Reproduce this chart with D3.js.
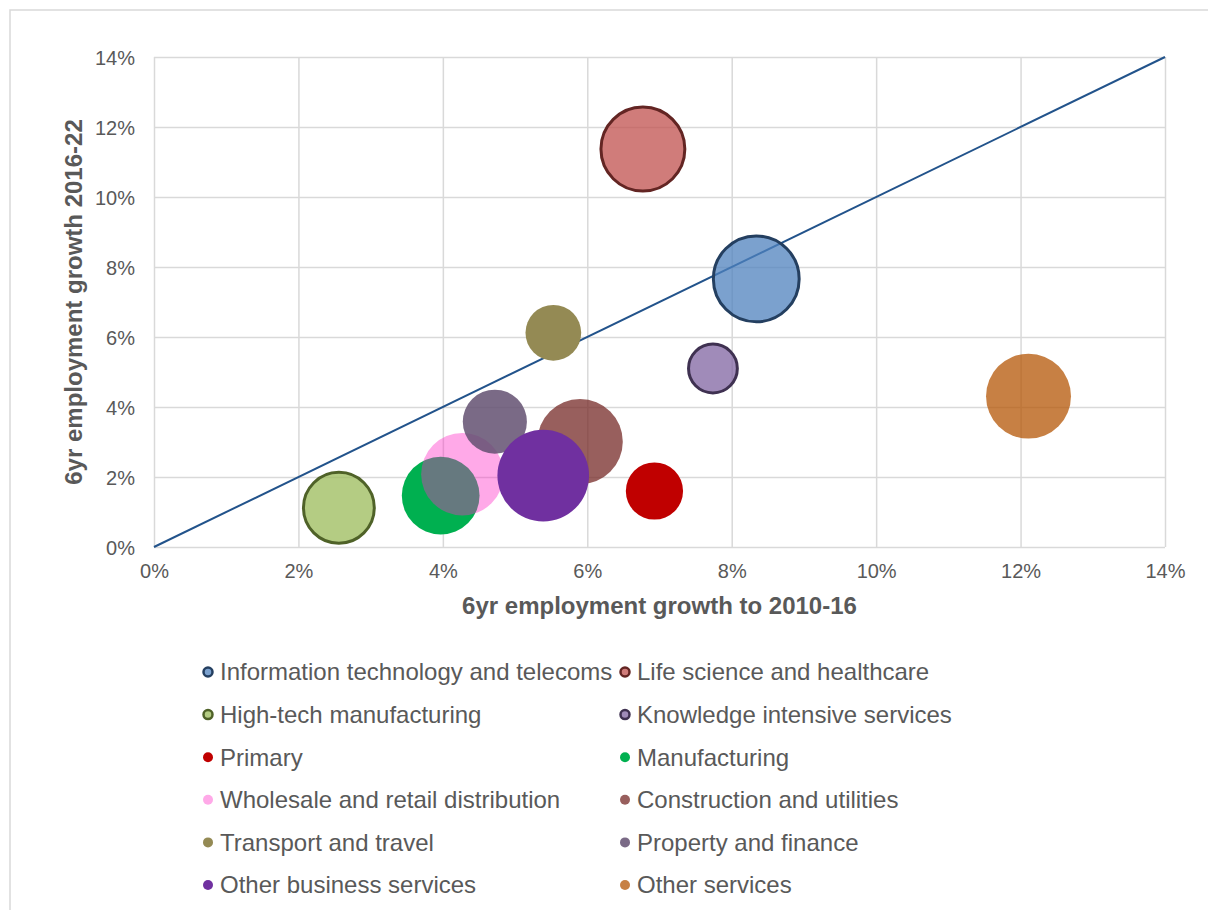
<!DOCTYPE html>
<html>
<head>
<meta charset="utf-8">
<script src="https://cdn.jsdelivr.net/npm/d3@7"></script>
<style>
  html, body { margin: 0; padding: 0; background: #fff; }
  svg { display: block; font-family: Arial, 'Liberation Sans', sans-serif; }
</style>
</head>
<body>
<svg id="chart" width="1208" height="910"></svg>
<script>
// sectors, in series order (Excel draws them in this order)
const sectors = [
  'Information technology and telecoms',
  'Life science and healthcare',
  'High-tech manufacturing',
  'Knowledge intensive services',
  'Primary',
  'Manufacturing',
  'Wholesale and retail distribution',
  'Construction and utilities',
  'Transport and travel',
  'Property and finance',
  'Other business services',
  'Other services',
]
// x: 6yr employment growth to 2010-16
const growthPrior = [0.0834, 0.0677, 0.0256, 0.0774, 0.0693, 0.0397, 0.0427, 0.059, 0.0553, 0.0472, 0.0539, 0.1211]
// y: 6yr employment growth 2016-22
const growthRecent = [0.0766, 0.1137, 0.0112, 0.051, 0.016, 0.0147, 0.0208, 0.0301, 0.0612, 0.0358, 0.0204, 0.0431]
// bubble size (relative)
const bubbleSize = [94, 90, 65, 32, 39, 72, 81, 87, 37, 49, 100, 86]

const axisTicks = [0, 0.02, 0.04, 0.06, 0.08, 0.1, 0.12, 0.14]
// parity line y = x
const parityLine = [[0, 0], [0.14, 0.14]]

// 样式
const fills = ['#4f81bd', '#c0504d', '#9bbb59', '#8064a2', '#c00000', '#00b050', '#ff29c5', '#762a27', '#948a54', '#635071', '#7030a0', '#b45505']
const fillOpacity = [0.75, 0.75, 0.75, 0.75, 1, 1, 0.4, 0.75, 1, 0.85, 1, 0.75]
const strokes = ['#243f60', '#632523', '#4f6228', '#3f3151', null, null, null, null, null, null, null, null]

const textColor = '#595959'
const gridColor = '#d9d9d9'

const svg = d3.select('#chart')

// 外框
svg.append('path')
  .attr('d', 'M10,910 V10 H1208')
  .attr('fill', 'none')
  .attr('stroke', gridColor)
  .attr('stroke-width', 1.5)

const plot = {left: 154, right: 1165, top: 57, bottom: 547}

const x = d3.scaleLinear().domain([0, 0.14]).range([plot.left, plot.right])
const y = d3.scaleLinear().domain([0, 0.14]).range([plot.bottom, plot.top])
const r = d3.scaleSqrt().domain([0, 100]).range([0, 45.8])

const fmt = d3.format('.0%')

// 网格线
svg.append('g')
  .attr('transform', `translate(0,${plot.bottom})`)
  .call(d3.axisBottom(x).tickValues(axisTicks).tickSize(-(plot.bottom - plot.top)).tickFormat(''))
  .call((g) => g.select('.domain').remove())
  .call((g) => g.selectAll('line').attr('stroke', gridColor).attr('stroke-width', 1.5))

svg.append('g')
  .attr('transform', `translate(${plot.left},0)`)
  .call(d3.axisLeft(y).tickValues(axisTicks).tickSize(-(plot.right - plot.left)).tickFormat(''))
  .call((g) => g.select('.domain').remove())
  .call((g) => g.selectAll('line').attr('stroke', gridColor).attr('stroke-width', 1.5))

// 刻度标签
svg.append('g')
  .attr('transform', `translate(0,${plot.bottom + 10})`)
  .call(d3.axisBottom(x).tickValues(axisTicks).tickSize(0).tickFormat(fmt))
  .call((g) => g.select('.domain').remove())
  .call((g) => g.selectAll('text')
    .attr('fill', textColor)
    .attr('font-size', 20)
    .attr('font-family', null)
    .attr('dy', '0.9em'))

svg.append('g')
  .attr('transform', `translate(${plot.left - 19},0)`)
  .call(d3.axisLeft(y).tickValues(axisTicks).tickSize(0).tickFormat(fmt))
  .call((g) => g.select('.domain').remove())
  .call((g) => g.selectAll('text')
    .attr('fill', textColor)
    .attr('font-size', 20)
    .attr('font-family', null)
    .attr('x', 0)
    .attr('dy', '0.35em'))

// 轴标题
svg.append('text')
  .attr('x', (plot.left + plot.right) / 2)
  .attr('y', 614)
  .attr('text-anchor', 'middle')
  .attr('font-size', 24)
  .attr('font-weight', 'bold')
  .attr('fill', textColor)
  .text('6yr employment growth to 2010-16')

svg.append('text')
  .attr('transform', `translate(82,${(plot.top + plot.bottom) / 2}) rotate(-90)`)
  .attr('text-anchor', 'middle')
  .attr('font-size', 24)
  .attr('font-weight', 'bold')
  .attr('fill', textColor)
  .text('6yr employment growth 2016-22')

// 对角线
svg.append('path')
  .datum(parityLine)
  .attr('d', d3.line().x((d) => x(d[0])).y((d) => y(d[1])))
  .attr('fill', 'none')
  .attr('stroke', '#22538b')
  .attr('stroke-width', 2)

// 气泡
const data = sectors.map((s, i) => ({
  sector: s,
  gx: growthPrior[i],
  gy: growthRecent[i],
  size: bubbleSize[i],
  i,
}))

svg.append('g')
  .selectAll('circle')
  .data(data)
  .join('circle')
  .attr('cx', (d) => x(d.gx))
  .attr('cy', (d) => y(d.gy))
  .attr('r', (d) => r(d.size) - (strokes[d.i] ? 1.5 : 0))
  .attr('fill', (d) => fills[d.i])
  .attr('fill-opacity', (d) => fillOpacity[d.i])
  .attr('stroke', (d) => strokes[d.i] || 'none')
  .attr('stroke-width', 3)

// 图例 - 两列
const legendCols = [208, 625]
const legendRowY = (row) => 672 + row * 42.6

const legend = svg.append('g')
  .selectAll('g')
  .data(data)
  .join('g')
  .attr('transform', (d) => `translate(${legendCols[d.i % 2]},${legendRowY(Math.floor(d.i / 2))})`)

legend.append('circle')
  .attr('r', (d) => (strokes[d.i] ? 4.5 : 5))
  .attr('fill', (d) => fills[d.i])
  .attr('fill-opacity', (d) => fillOpacity[d.i])
  .attr('stroke', (d) => strokes[d.i] || 'none')
  .attr('stroke-width', 2.5)

legend.append('text')
  .attr('x', 12)
  .attr('dy', '0.35em')
  .attr('font-size', 24)
  .attr('fill', textColor)
  .text((d) => d.sector)
</script>
</body>
</html>
